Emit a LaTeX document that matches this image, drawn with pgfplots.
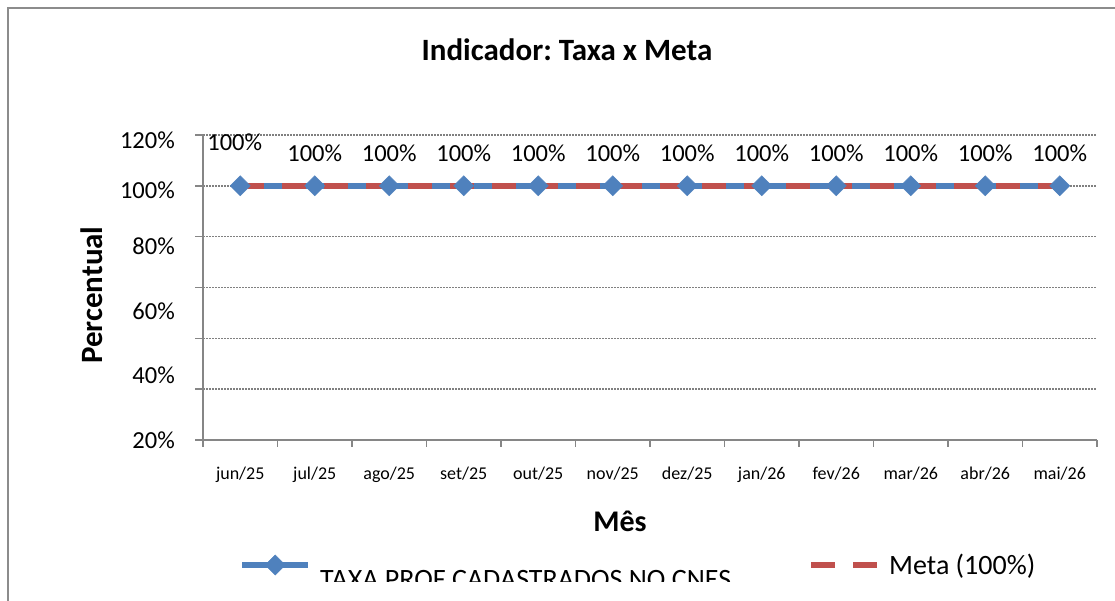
\documentclass[border=0pt]{standalone}
\usepackage{fontspec}
\setmainfont{Carlito}
\usepackage{pgfplots}
\pgfplotsset{compat=1.18}
\usepackage{pgfplotstable}
\usepackage{graphicx}
\frenchspacing
\definecolor{taxa}{RGB}{79,129,189}
\definecolor{meta}{RGB}{192,80,77}
\definecolor{axgray}{RGB}{134,134,134}
\definecolor{gridgray}{RGB}{128,128,128}
\definecolor{framegray}{RGB}{140,140,140}

\pgfplotstableread{
x y dx dy
0 100 -5.5 35
1 100 0 24
2 100 0 24
3 100 0 24
4 100 0 24
5 100 0 24
6 100 0 24
7 100 0 24
8 100 0 24
9 100 0 24
10 100 0 24
11 100 0 24
}\taxadata

\pgfplotstableread{
x y
0 100
1 100
2 100
3 100
4 100
5 100
6 100
7 100
8 100
9 100
10 100
11 100
}\metadata

\begin{document}
\begin{tikzpicture}
\useasboundingbox (0pt,0pt) rectangle (1115pt,601pt);
\draw[framegray, line width=2pt] (8pt,-5pt) -- (8pt,593pt) -- (1125pt,593pt);
\node[font=\bfseries\fontsize{31}{36}\selectfont, anchor=base, inner sep=0pt] at (567pt,540pt) {Indicador: Taxa x Meta};
\begin{scope}
\clip (0pt,19pt) rectangle (1115pt,601pt);
\begin{axis}[
  at={(203pt,161pt)}, anchor=south west,
  width=894pt, height=305pt, scale only axis,
  xmin=-0.5, xmax=11.5, ymin=0, ymax=120,
  enlargelimits=false, clip=false,
  axis x line=bottom, axis y line=left,
  axis line style={axgray, line width=1.8pt, -},
  tick align=outside,
  /pgf/number format/assume math mode=true,
  xtick={0,1,...,11},
  xticklabels={jun/25,jul/25,ago/25,set/25,out/25,nov/25,dez/25,jan/26,fev/26,mar/26,abr/26,mai/26},
  minor xtick={-0.5,0.5,...,11.5},
  major x tick style={draw=none},
  minor x tick style={axgray, line width=1.5pt},
  minor tick length=7pt,
  xticklabel style={font=\fontsize{18}{20}\selectfont, inner sep=0pt, anchor=north, yshift=-19pt},
  ytick={0,20,...,120},
  yticklabels={},
  major y tick style={axgray, line width=1.5pt},
  major tick length=8pt,
  ymajorgrids,
  major grid style={gridgray, line width=1.5pt, dash pattern=on 1.5pt off 1.5pt},
  extra y ticks={0,25.6,50.8,76.3,98.4,118},
  extra y tick labels={20\%,40\%,60\%,80\%,100\%,120\%},
  extra y tick style={grid=none, major tick length=0pt},
  yticklabel style={font=\fontsize{24.5}{28}\selectfont, inner sep=0pt, anchor=east, xshift=-28pt},
  xlabel={Mês},
  xlabel style={font=\bfseries\fontsize{30}{34}\selectfont, at={(axis description cs:0.4664,-0.2984)}, anchor=base, inner sep=0pt},
  ylabel={Percentual},
  ylabel style={font=\bfseries\fontsize{31}{34}\selectfont, at={(axis description cs:-0.124,0.475)}, anchor=center, rotate=0, inner sep=0pt},
  legend columns=2,
  legend cell align=left,
  legend style={draw=none, fill=none, at={(axis description cs:0.0403,-0.41)}, anchor=west,
    inner sep=0pt, column sep=0pt, font=\fontsize{28}{32}\selectfont,
    nodes={inner sep=0pt},
    /tikz/every odd column/.append style={column sep=9pt}},
  legend image code/.code={\draw[mark repeat=2, mark phase=2, #1] plot coordinates {(0pt,0pt) (33pt,0pt) (66pt,0pt)};},
]
\addplot[taxa, line width=6pt, mark=square*, mark size=7.1pt,
  mark options={rotate=45, solid, fill=taxa, draw=taxa, line width=0.5pt},
  point meta=y,
  visualization depends on={\thisrow{dx} \as \dx},
  visualization depends on={\thisrow{dy} \as \dy},
  nodes near coords={\pgfmathprintnumber{\pgfplotspointmeta}\%},
  every node near coord/.append style={font=\fontsize{24.5}{28}\selectfont, text=black, anchor=base, inner sep=0pt, xshift=\dx pt, yshift=\dy pt}]
  table[x=x, y=y] {\taxadata};
\addlegendentry{\makebox[488pt][l]{\raisebox{-15pt}[\height][\depth]{TAXA PROF CADASTRADOS NO CNES}}}
\addplot[meta, line width=6pt, dash pattern=on 24pt off 18pt, no marks]
  table[x=x, y=y] {\metadata};
\addlegendentry{Meta (100\%)}
\end{axis}
\end{scope}
\end{tikzpicture}
\end{document}
